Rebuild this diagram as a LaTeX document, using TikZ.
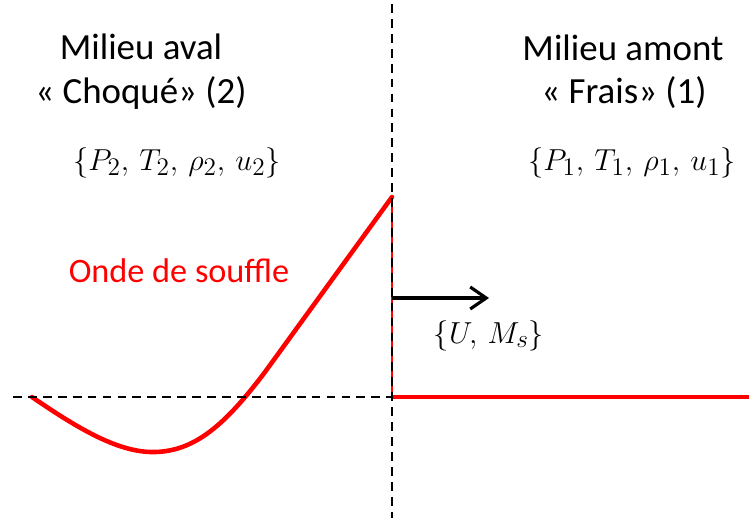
\documentclass[tikz,border=0pt]{standalone}
\usepackage{fontspec}
\setmainfont{Carlito}
\usepackage{amsmath,amssymb}
\usepackage{tikz}
\usetikzlibrary{positioning,arrows.meta}

\begin{document}
\begin{tikzpicture}[
  x=0.02cm, y=-0.02cm,
  txt_head/.style={anchor=base, font=\fontsize{21}{25}\selectfont},
  txt_math/.style={anchor=base, font=\fontsize{19}{23}\selectfont},
  axis_dash/.style={draw=black, line width=1.1pt, dash pattern=on 5pt off 3.5pt},
  wave_line/.style={draw=red, line width=2.6pt, line cap=round, line join=round}
]
% Pixel grid of the figure: front at x = \xF, rest level at y = \yR.
\def\xF{392}
\def\yR{397}
\def\yPk{197}
\useasboundingbox (0,0) rectangle (749,518);

% --- Downstream side (2) ---
\node[txt_head] (aval) at (141,59) {Milieu aval};
\node[txt_head] (choque) at (141,103) {« Choqué» (2)};
\node[txt_math] (etat2) at (177,170) {$\{P_2,\,T_2,\,\rho_2,\,u_2\}$};

% --- Upstream side (1) ---
\node[txt_head] (amont) at (623,60) {Milieu amont};
\node[txt_head] (frais) at (624,103) {« Frais» (1)};
\node[txt_math] (etat1) at (632,170) {$\{P_1,\,T_1,\,\rho_1,\,u_1\}$};

% --- Blast wave profile ---
\node[txt_head, font=\fontsize{19.5}{23}\selectfont, text=red] (onde) at (179,282) {Onde de souffle};
\draw[red, line width=1.5pt] (\xF,\yPk) -- (\xF,\yR);
\draw[red, line width=1.9pt] (\xF,\yR) -- (749,\yR);
\draw[wave_line] (32,\yR) .. controls (80,430) and (120,453) .. (155,452)
  .. controls (195,451) and (225,425) .. (265,372) -- (\xF,\yPk);

% --- Reference lines ---
\draw[axis_dash] (13,\yR) -- (\xF,\yR);
\draw[axis_dash] (\xF,4) -- (\xF,518);

% --- Front velocity ---
\coordinate (front) at (\xF,298);
\coordinate (tip) at (489,298);
\draw[line width=1.8pt, -{Straight Barb[length=3.2mm, width=4.4mm, line width=1.8pt]}] (front) -- (tip);
\node[txt_math] (choc) at (489,343) {$\{U,\,M_s\}$};

\end{tikzpicture}
\end{document}
